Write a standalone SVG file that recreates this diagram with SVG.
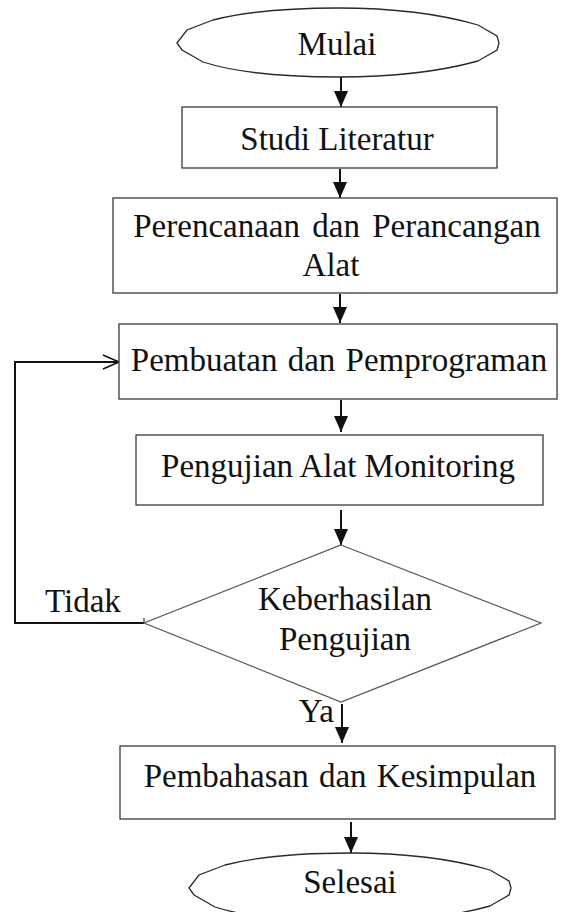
<svg xmlns="http://www.w3.org/2000/svg" xmlns:xlink="http://www.w3.org/1999/xlink" width="587" height="912" viewBox="0 0 587 912">
  <style>
    .box { fill: #ffffff; stroke: #3a3a3a; stroke-width: 1.3; }
    .term { fill: #ffffff; stroke: #2a2a2a; stroke-width: 1.3; }
    .dec { fill: #ffffff; stroke: #555555; stroke-width: 1.2; }
    .lbl { font-family: "Liberation Serif", "Times New Roman", serif; font-size: 33px; fill: #111111; text-anchor: middle; }
    .side { font-family: "Liberation Serif", "Times New Roman", serif; font-size: 33px; fill: #111111; }
    .wire { fill: none; stroke: #111111; stroke-width: 2; }
  </style>
  <defs>
    <!-- faceted oval used for the start and end terminators, centred on 0,0 -->
    <path id="oval" d="M-161,0 L-151,-13 L-125,-23 Q-78,-35 0,-35 Q82,-35 140,-18 L159,-7 L161,0 L159,7 L140,18 Q82,34 0,34 Q-88,34 -135,19 L-156,7 Z"/>
    <marker id="head" markerUnits="userSpaceOnUse" markerWidth="18" markerHeight="14" refX="16" refY="7" orient="auto">
      <path d="M0,0 L16,7 L0,14 Z" fill="#111111"/>
    </marker>
    <marker id="open" markerUnits="userSpaceOnUse" markerWidth="20" markerHeight="16" refX="17" refY="8" orient="auto">
      <path d="M1,1 L17,8 L1,15" fill="none" stroke="#111111" stroke-width="1.6"/>
    </marker>
  </defs>

  <g id="connectors">
    <line class="wire" x1="341" y1="77" x2="341" y2="107" marker-end="url(#head)"/>
    <line class="wire" x1="340" y1="169" x2="340" y2="198" marker-end="url(#head)"/>
    <line class="wire" x1="340" y1="294" x2="340" y2="323" marker-end="url(#head)"/>
    <line class="wire" x1="341" y1="400" x2="341" y2="432" marker-end="url(#head)"/>
    <line class="wire" x1="341" y1="510" x2="341" y2="545" marker-end="url(#head)"/>
    <line class="wire" x1="342" y1="704" x2="342" y2="743" marker-end="url(#head)"/>
    <line class="wire" x1="351" y1="822" x2="351" y2="853" marker-end="url(#head)"/>
    <!-- loop back from the decision to the build step -->
    <polyline class="wire" points="144,623 15,623 15,362 119,362" marker-end="url(#open)"/>
    <line x1="144" y1="618" x2="144" y2="623" stroke="#111111" stroke-width="1"/>
    <text class="side" x="45" y="612">Tidak</text>
    <text class="side" x="334" y="722" text-anchor="end">Ya</text>
  </g>

  <g id="mulai">
    <use xlink:href="#oval" class="term" transform="translate(338,43)"/>
    <text class="lbl" x="337" y="55">Mulai</text>
  </g>

  <g id="studi-literatur">
    <rect class="box" x="182" y="107" width="315" height="61"/>
    <text class="lbl" x="337" y="150">Studi Literatur</text>
  </g>

  <g id="perencanaan">
    <rect class="box" x="113" y="198" width="444" height="95"/>
    <text class="lbl" x="337" y="237" word-spacing="4">Perencanaan dan Perancangan</text>
    <text class="lbl" x="331" y="276">Alat</text>
  </g>

  <g id="pembuatan">
    <rect class="box" x="119" y="324" width="438" height="75"/>
    <text class="lbl" x="339" y="371" word-spacing="2">Pembuatan dan Pemprograman</text>
  </g>

  <g id="pengujian">
    <rect class="box" x="136" y="435" width="407" height="70"/>
    <text class="lbl" x="338" y="477">Pengujian Alat Monitoring</text>
  </g>

  <g id="keberhasilan">
    <polygon class="dec" points="341,545 541,623 341,702 144,623"/>
    <text class="lbl" x="345" y="610">Keberhasilan</text>
    <text class="lbl" x="345" y="650">Pengujian</text>
  </g>

  <g id="pembahasan">
    <rect class="box" x="120" y="746" width="435" height="73"/>
    <text class="lbl" x="340" y="787" word-spacing="2">Pembahasan dan Kesimpulan</text>
  </g>

  <g id="selesai">
    <use xlink:href="#oval" class="term" transform="translate(350,888)"/>
    <text class="lbl" x="350" y="893">Selesai</text>
  </g>
</svg>
